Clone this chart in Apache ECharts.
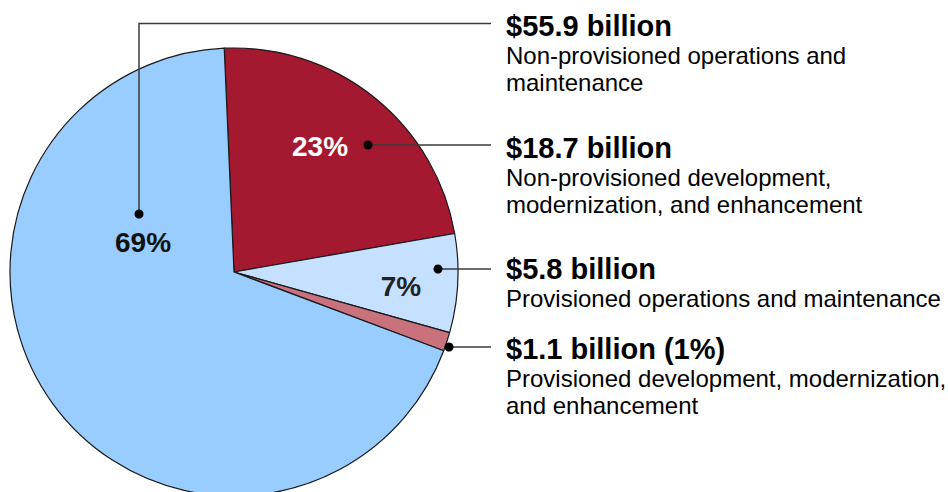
<!DOCTYPE html>
<html>
<head>
<meta charset="utf-8">
<script src="https://cdn.jsdelivr.net/npm/echarts@6/dist/echarts.min.js"></script>
<style>
  html, body { margin: 0; padding: 0; background: #fff; }
  #chart { width: 948px; height: 492px; }
</style>
</head>
<body>
<div id="chart"></div>
<script>
// slice data, clockwise from the top
const names = [
  'Non-provisioned development, modernization, and enhancement',
  'Provisioned operations and maintenance',
  'Provisioned development, modernization, and enhancement',
  'Non-provisioned operations and maintenance'
];
const values = [18.7, 5.8, 1.1, 55.9];
const pctLabels = ['23%', '7%', '', '69%'];
const amountLabels = ['$18.7 billion', '$5.8 billion', '$1.1 billion (1%)', '$55.9 billion'];
const descLines = [
  ['Non-provisioned development,', 'modernization, and enhancement'],
  ['Provisioned operations and maintenance'],
  ['Provisioned development, modernization,', 'and enhancement'],
  ['Non-provisioned operations and', 'maintenance']
];

const colors = ['#a51930', '#c5e1ff', '#c9717d', '#99ccff'];
const pctColors = ['#ffffff', '#222222', '#222222', '#111111'];

// layout of the callouts (px)
const pctPos = [[320, 146], [401, 286], null, [143, 242]];
const dotPos = [[368, 145], [438, 269], [449, 347], [139, 214]];
const textTop = [148, 269, 349, 26];   // y of the bold line for each callout
const textX = 506;
const lineEndX = 491;

const chart = echarts.init(document.getElementById('chart'), null, { renderer: 'svg' });

const FONT = '"Liberation Sans", Arial, sans-serif';
let graphics = [];

values.forEach(function (v, i) {
  const d = dotPos[i];
  // leader line
  if (i === 3) {
    graphics.push({
      type: 'polyline', z: 10,
      shape: { points: [[d[0], d[1]], [d[0], 23.5], [lineEndX, 23.5]] },
      style: { stroke: '#3a3a3a', lineWidth: 1.5, fill: null }
    });
  } else {
    graphics.push({
      type: 'line', z: 10,
      shape: { x1: d[0], y1: d[1], x2: lineEndX, y2: d[1] },
      style: { stroke: '#3a3a3a', lineWidth: 1.5 }
    });
  }
  graphics.push({
    type: 'circle', z: 11,
    shape: { cx: d[0], cy: d[1], r: 4.5 },
    style: { fill: '#000' }
  });
  // amount + description
  graphics.push({
    type: 'text', z: 12, x: textX, y: textTop[i],
    style: { text: amountLabels[i], font: 'bold 29px ' + FONT, fill: '#000',
             textAlign: 'left', textVerticalAlign: 'middle' }
  });
  descLines[i].forEach(function (t, k) {
    graphics.push({
      type: 'text', z: 12, x: textX, y: textTop[i] + 29 + k * 27,
      style: { text: t, font: '24px ' + FONT, fill: '#000',
               textAlign: 'left', textVerticalAlign: 'middle' }
    });
  });
});

chart.setOption({
  animation: false,
  graphic: { elements: graphics },
  series: [{
    type: 'pie',
    center: [234, 272],
    radius: 224,
    startAngle: 92.5,
    clockwise: true,
    silent: true,
    itemStyle: { borderColor: '#1a1a1a', borderWidth: 1.2 },
    label: {
      show: true,
      position: 'inside',
      fontFamily: FONT,
      fontWeight: 'bold',
      fontSize: 28,
      formatter: function (p) { return pctLabels[p.dataIndex]; }
    },
    labelLine: { show: false },
    labelLayout: function (p) {
      const pos = pctPos[p.dataIndex];
      if (!pos) return {};
      return { x: pos[0], y: pos[1], align: 'center', verticalAlign: 'middle' };
    },
    data: values.map(function (v, i) {
      return {
        name: names[i],
        value: v,
        itemStyle: { color: colors[i] },
        label: { show: pctLabels[i] !== '', color: pctColors[i] }
      };
    })
  }]
});
</script>
</body>
</html>
